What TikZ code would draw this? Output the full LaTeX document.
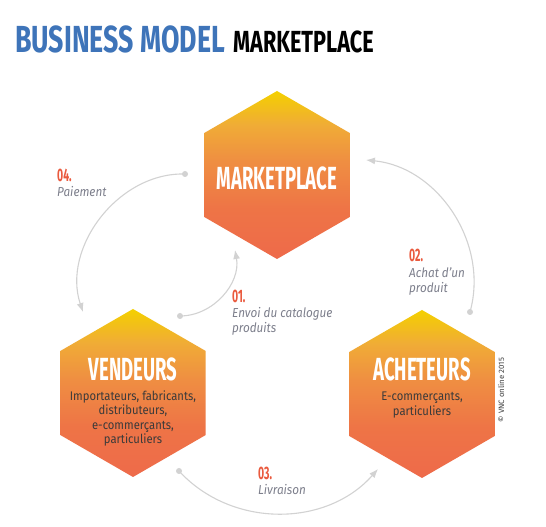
\documentclass[tikz,border=0pt]{standalone}
\usepackage{fontspec}
\setmainfont{Fira Sans}
\newfontfamily\headfont[FakeStretch=0.71]{Fira Sans}
\newfontfamily\hexfont[FakeStretch=0.58]{Fira Sans}
\newfontfamily\bodyfont[FakeStretch=0.9]{Fira Sans}
\usetikzlibrary{positioning, arrows.meta, shapes.geometric}
\definecolor{bmblue}{HTML}{3E74B9}
\definecolor{hextop}{HTML}{F4D000}
\definecolor{hexup}{HTML}{F0AC36}
\definecolor{hexmid}{HTML}{EF8E42}
\definecolor{hexlow}{HTML}{EE7446}
\definecolor{hexbot}{HTML}{EE6A4A}
\definecolor{stepnumcol}{HTML}{EA5A3E}
\definecolor{steptextcol}{HTML}{7D7F8C}
\definecolor{bodycol}{HTML}{3A3A3A}
\definecolor{arccol}{HTML}{D2D2D2}
\pgfdeclareverticalshading{hexshade}{100bp}{%
  color(0bp)=(hexbot); color(25bp)=(hexbot); color(40bp)=(hexlow);
  color(54bp)=(hexmid); color(65bp)=(hexup); color(75bp)=(hextop);
  color(100bp)=(hextop)}
\tikzset{
  hexa/.style={
    regular polygon, regular polygon sides=6, shape border rotate=30,
    minimum size=168pt, inner sep=0pt, outer sep=0pt,
    shading=hexshade
  },
  hextitle/.style={
    anchor=base, text=white,
    font=\hexfont\bfseries\fontsize{32}{34}\selectfont
  },
  % anchor=base of a multi-line node is the last line's baseline
  hexbody/.style={
    anchor=base, align=center, text=bodycol, inner sep=0pt,
    font=\bodyfont\fontsize{12.5}{14.3}\selectfont
  },
  stepnum/.style={
    anchor=base west, inner sep=0pt, text=stepnumcol,
    font=\hexfont\bfseries\fontsize{18}{20}\selectfont
  },
  steptext/.style={
    anchor=base west, inner sep=0pt, align=left, text=steptextcol,
    font=\bodyfont\itshape\fontsize{13}{15}\selectfont
  },
  cyclearrow/.style={-{Latex[length=9pt,width=7pt]}, draw=arccol, line width=1.1pt},
  startdot/.style={fill=arccol, draw=none},
}

\begin{document}
\begin{tikzpicture}[x=1pt, y=1pt]
  \useasboundingbox[fill=white] (0,0) rectangle (546,527);

  % title
  \node[anchor=base west, inner sep=0pt, text=bmblue,
        font=\headfont\bfseries\fontsize{37.7}{40}\selectfont] (bm) at (15,474) {BUSINESS MODEL};
  \node[anchor=base west, inner sep=0pt,
        font=\headfont\bfseries\fontsize{30.5}{33}\selectfont] (mptitle) at (233,474) {MARKETPLACE};

  % the three hexagons
  \node[hexa] (mp)  at (277,352) {};
  \node[hexa] (ven) at (133,134) {};
  \node[hexa] (ach) at (422,133) {};

  \node[hextitle] (mplabel) at (277,337) {MARKETPLACE};
  \node[hextitle] (venlabel) at (133,146) {VENDEURS};
  \node[hexbody] (vendesc) at (133,83.4)
    {Importateurs, fabricants,\\ distributeurs,\\ e-commerçants,\\ particuliers};
  \node[hextitle] (achlabel) at (422,146) {ACHETEURS};
  \node[hexbody] (achdesc) at (422,111.7) {E-commerçants,\\ particuliers};

  % ends of the arcs
  \coordinate (s1) at (180,211);  \coordinate (e1) at (235,277);
  \coordinate (s2) at (470,215);  \coordinate (e2) at (366,367);
  \coordinate (s3) at (179,56);   \coordinate (e3) at (378,58);
  \coordinate (s4) at (185,353);  \coordinate (e4) at (83,215);

  \foreach \dd in {s1,s2,s3,s4} {
    \fill[startdot] (\dd) circle (3pt);
  }
  \draw[cyclearrow] (s1) to[bend right=50] (e1);
  \draw[cyclearrow] (s2) to[bend right=50] (e2);
  \draw[cyclearrow] (s3) to[bend right=48] (e3);
  \draw[cyclearrow] (s4) to[bend right=55] (e4);

  % step labels
  \node[stepnum] (n1) at (232,224) {01.};
  \node[steptext] (t1) at (232,194) {Envoi du catalogue\\ produits};
  \node[stepnum] (n2) at (409,265) {02.};
  \node[steptext] (t2) at (409,234) {Achat d’un\\ produit};
  \node[stepnum] (n3) at (258,47) {03.};
  \node[steptext] (t3) at (258,32) {Livraison};
  \node[stepnum] (n4) at (57,345) {04.};
  \node[steptext] (t4) at (57,330) {Paiement};

  \node[rotate=90, inner sep=0pt, text=black!75,
        font=\fontsize{7.8}{9}\selectfont] (copy) at (501,137) {© VNC online 2015};
\end{tikzpicture}
\end{document}
